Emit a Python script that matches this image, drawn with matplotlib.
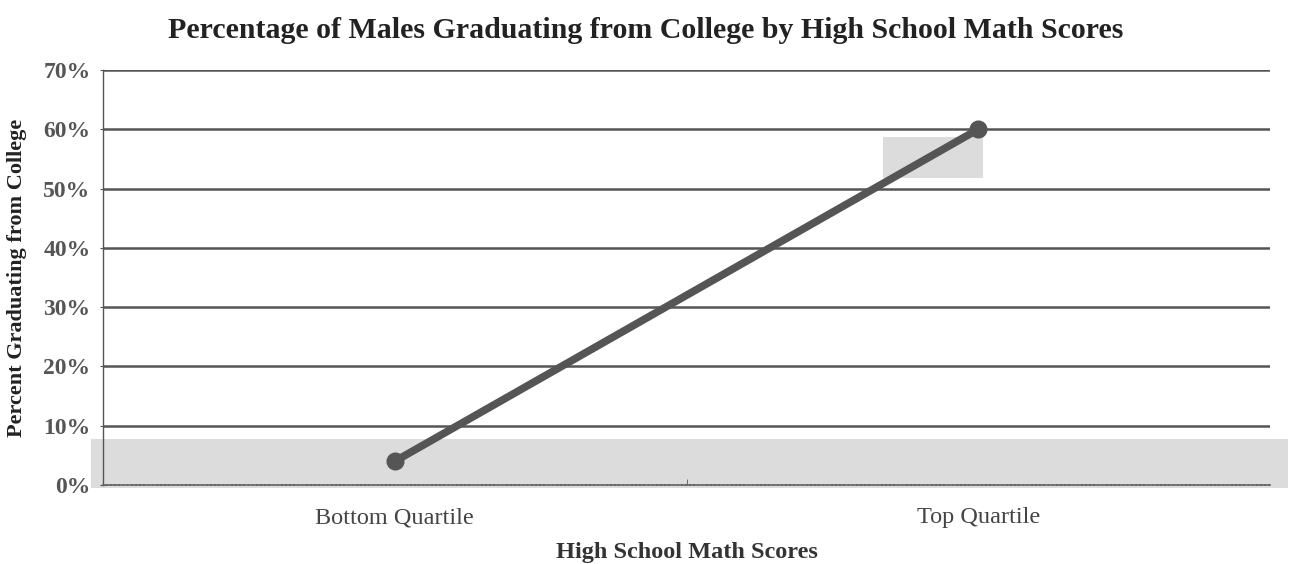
import matplotlib
matplotlib.use("Agg")
import matplotlib.pyplot as plt
from matplotlib.patches import Rectangle

categories = ["Bottom Quartile", "Top Quartile"]
values = [4.0, 60.0]
yticks = [0, 10, 20, 30, 40, 50, 60, 70]
ytick_labels = ["0%", "10%", "20%", "30%", "40%", "50%", "60%", "70%"]

plt.rcParams['font.family'] = ['Liberation Serif', 'DejaVu Serif']

fig = plt.figure(figsize=(12.92, 5.64), dpi=100)
ax = fig.add_axes([103/1292, 1 - 485/564, (1270-103)/1292, (485-70)/564])

grid_c = "#555555"
text_c = "#555555"

# scan-like shaded patches
ax.add_patch(Rectangle((-0.52, -0.5), 2.05, 8.2, transform=ax.transData,
                       facecolor="#dcdcdc", edgecolor="none", zorder=0, clip_on=False))
ax.add_patch(Rectangle((0.837, 51.8), 0.171, 6.9, transform=ax.transData,
                       facecolor="#dcdcdc", edgecolor="none", zorder=0))

for y in yticks[1:]:
    ax.axhline(y, color=grid_c, lw=1.8, zorder=1)

x = list(range(len(categories)))
ax.plot(x, values, color="#555555", lw=5.5, marker="o", markersize=12,
        solid_capstyle="round", zorder=3)

ax.set_xlim(-0.5, 1.5)
ax.set_ylim(0, 70)
ax.set_yticks(yticks)
ax.set_yticklabels(ytick_labels, fontsize=17, color=text_c, fontweight="bold")
ax.set_xticks(x)
ax.set_xticklabels(categories, fontsize=17.5, color="#444444")
ax.tick_params(axis="x", length=0, pad=16)
ax.tick_params(axis="y", length=4, direction="inout", color=grid_c, pad=7)
ax.set_xticks([0.5], minor=True)
ax.tick_params(axis="x", which="minor", length=4, direction="in", color=grid_c)

for s in ["top", "right"]:
    ax.spines[s].set_visible(False)
ax.spines["left"].set_color(grid_c)
ax.spines["left"].set_linewidth(1.0)
ax.spines["bottom"].set_color("#666666")
ax.spines["bottom"].set_linewidth(1.2)
ax.spines["bottom"].set_linestyle((0, (2, 0.5)))

ax.set_xlabel("High School Math Scores", fontsize=17.5, fontweight="bold",
              color="#333333", labelpad=10)
ax.set_ylabel("Percent Graduating from College", fontsize=16, fontweight="bold",
              color="#222222", labelpad=12)

fig.text(0.5, 1 - 30/564, "Percentage of Males Graduating from College by High School Math Scores",
         ha="center", va="center", fontsize=21.5, fontweight="bold", color="#222222")

fig.savefig("out.png", dpi=100, facecolor="white")
